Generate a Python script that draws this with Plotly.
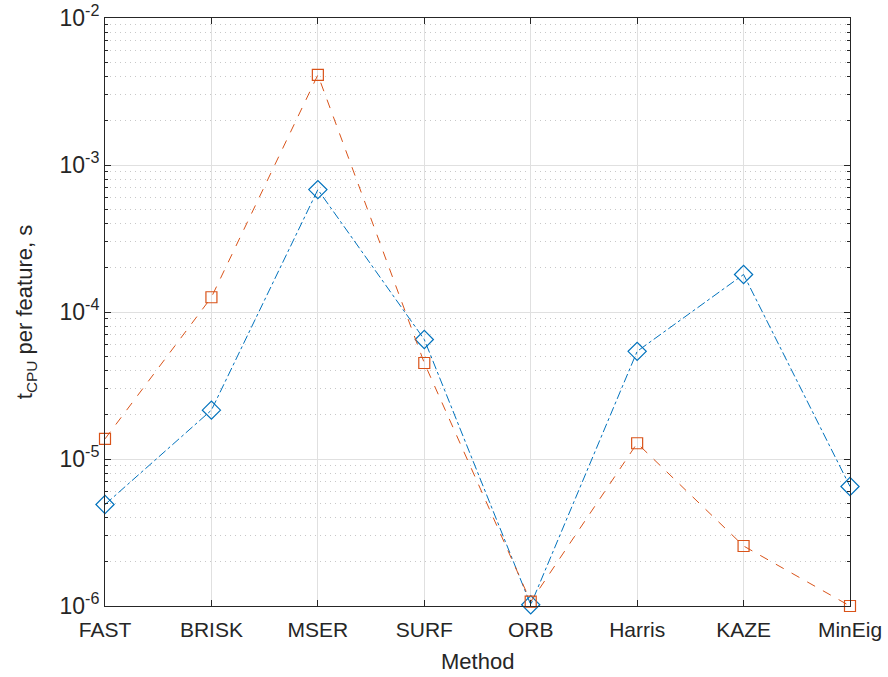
import plotly.graph_objects as go

methods = ["FAST", "BRISK", "MSER", "SURF", "ORB", "Harris", "KAZE", "MinEig"]
series_a = [4.9e-6, 2.15e-5, 6.8e-4, 6.5e-5, 1.02e-6, 5.4e-5, 1.8e-4, 6.5e-6]
series_b = [1.37e-5, 1.26e-4, 4.1e-3, 4.5e-5, 1.07e-6, 1.28e-5, 2.56e-6, 1.0e-6]
ytick_vals = [1e-6, 1e-5, 1e-4, 1e-3, 1e-2]
ytick_text = ["10<sup>-6</sup>", "10<sup>-5</sup>", "10<sup>-4</sup>", "10<sup>-3</sup>", "10<sup>-2</sup>"]

blue = "#0072BD"
orange = "#D95319"

fig = go.Figure()
fig.add_trace(go.Scatter(
    x=methods, y=series_a, mode="lines+markers",
    line=dict(color=blue, width=1, dash="dashdot"),
    marker=dict(symbol="diamond-open", size=14, color=blue, line=dict(width=1.2, color=blue)),
    cliponaxis=False, showlegend=False))
fig.add_trace(go.Scatter(
    x=methods, y=series_b, mode="lines+markers",
    line=dict(color=orange, width=1, dash="dash"),
    marker=dict(symbol="square-open", size=11, color=orange, line=dict(width=1.2, color=orange)),
    cliponaxis=False, showlegend=False))

axis_color = "#262626"
font = dict(family="Liberation Sans, Arial, sans-serif", size=21, color=axis_color)

fig.update_layout(
    width=888, height=677,
    margin=dict(l=105, r=38, t=18, b=71),
    paper_bgcolor="white", plot_bgcolor="white",
    font=font,
    xaxis=dict(
        type="category", range=[0, 7],
        showline=True, linecolor=axis_color, linewidth=1, mirror="ticks",
        ticks="inside", ticklen=6, tickcolor=axis_color,
        showgrid=True, gridcolor="#e0e0e0", gridwidth=1,
        zeroline=False, automargin=False,
        ticklabelstandoff=5,
        tickfont=dict(size=21),
    ),
    yaxis=dict(
        type="log", range=[-6, -2],
        tickmode="array", tickvals=ytick_vals, ticktext=ytick_text,
        showline=True, linecolor=axis_color, linewidth=1, mirror="ticks",
        ticks="inside", ticklen=6, tickcolor=axis_color,
        showgrid=True, gridcolor="#e0e0e0", gridwidth=1,
        zeroline=False, automargin="left",
        minor=dict(dtick="D1", ticks="inside", ticklen=3, tickcolor=axis_color,
                   showgrid=True, gridcolor="#c8c8c8", griddash="1px,4px", gridwidth=1),
        title=dict(text="t<sub>CPU</sub> per feature, s", font=dict(size=22), standoff=20),
        tickfont=dict(size=23),
    ),
    annotations=[dict(text="Method", xref="paper", yref="paper", x=0.5, y=-0.095,
                      xanchor="center", yanchor="middle", showarrow=False,
                      font=dict(size=22, color=axis_color))],
)

fig.write_html("out.html")
